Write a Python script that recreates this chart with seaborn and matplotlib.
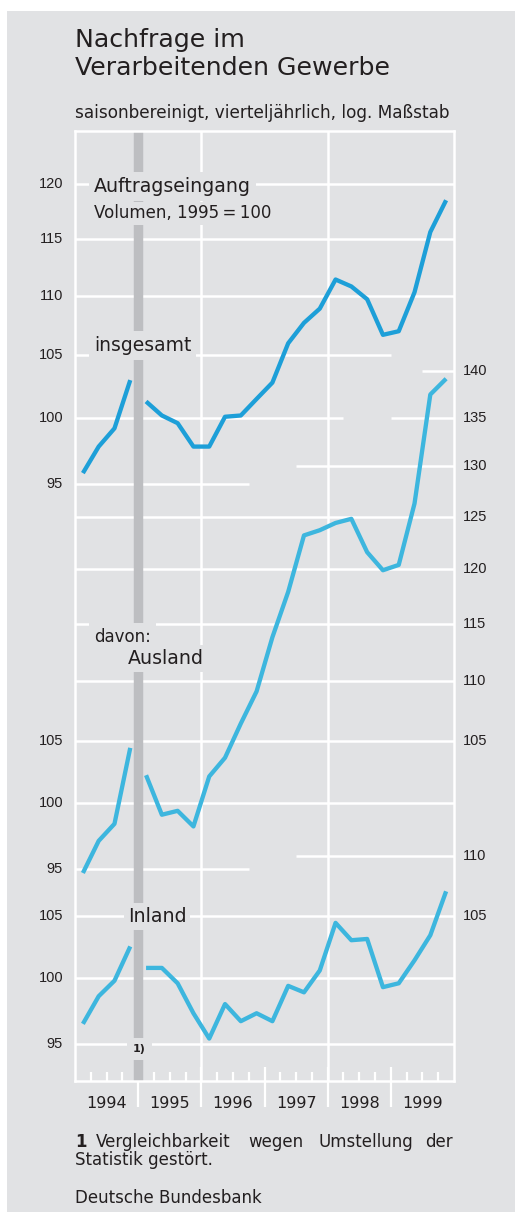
import matplotlib
matplotlib.use("Agg")
import matplotlib.pyplot as plt
import matplotlib.transforms as mtransforms
from matplotlib.patches import Rectangle
from matplotlib import font_manager
import seaborn as sns
import pandas as pd

# ---------------- data ----------------
years = [1994, 1995, 1996, 1997, 1998, 1999]
quarters = [1, 2, 3, 4]

insgesamt = [95.8, 97.8, 99.2, 103.0, 101.3, 100.2, 99.6, 97.8, 97.8, 100.1, 100.2, 101.5,
             102.8, 106.0, 107.7, 108.9, 111.4, 110.8, 109.7, 106.7, 107.0, 110.3, 115.6, 118.5]
ausland = [94.7, 97.1, 98.4, 104.4, 102.2, 99.1, 99.4, 98.2, 102.1, 103.6, 106.4, 109.1,
           113.8, 117.9, 123.2, 123.7, 124.4, 124.8, 121.6, 119.9, 120.4, 126.3, 137.5, 139.2]
inland = [96.5, 98.6, 99.8, 102.5, 100.8, 100.8, 99.6, 97.3, 95.4, 98.0, 96.7, 97.3,
          96.7, 99.4, 98.9, 100.6, 104.4, 103.0, 103.1, 99.3, 99.6, 101.4, 103.4, 107.0]

ins_ticks = [95, 100, 105, 110, 115, 120]
aus_ticks_left = [95, 100, 105]
aus_ticks_right = [105, 110, 115, 120, 125, 130, 135, 140]
inl_ticks_left = [95, 100, 105]
inl_ticks_right = [105, 110]
break_year = 1995  # comparability break (footnote 1)

# ---------------- style ----------------
W, H = 515, 1212
BG = "#e1e2e4"
BAR = "#bdbec1"
TXT = "#231f20"
C_INS = "#1d9fd8"
C_SUB = "#3db6de"
GRID_LW = 1.8
LINE_LW = 3.1

sns.set_style("white")
plt.rcParams["font.family"] = ["DejaVu Sans"]

names = {f.name for f in font_manager.fontManager.ttflist}
if "Liberation Sans Narrow" in names:
    NUM_FONT, NUM_SIZE = ["Liberation Sans Narrow", "DejaVu Sans"], 12
elif "Liberation Sans" in names:
    NUM_FONT, NUM_SIZE = ["Liberation Sans", "DejaVu Sans"], 10.5
else:
    NUM_FONT, NUM_SIZE = ["DejaVu Sans"], 9.5

fig = plt.figure(figsize=(W / 100, H / 100), dpi=100)
fig.patch.set_facecolor("white")
fig.add_artist(Rectangle((7 / W, 0), 1 - 7 / W, (H - 11) / H, transform=fig.transFigure,
                         facecolor=BG, edgecolor="none", zorder=0))

AX_L, AX_R, AX_T, AX_B = 75, 454, 131, 1081
rect = [AX_L / W, 1 - AX_B / H, (AX_R - AX_L) / W, (AX_B - AX_T) / H]

# panel limits: one common log scale, panels shifted against each other
INS_LIM = (59.65, 125.07)
AUS_SHIFT = 1.35      # Ausland 135 level sits at insgesamt 100 level
INL_SHIFT = 1.5473    # Inland panel shift
AUS_LIM = (INS_LIM[0] * AUS_SHIFT, INS_LIM[1] * AUS_SHIFT)
INL_LIM = (INS_LIM[0] * INL_SHIFT, INS_LIM[1] * INL_SHIFT)

base = fig.add_axes(rect, zorder=1)
ax_aus = fig.add_axes(rect, zorder=2)
ax_inl = fig.add_axes(rect, zorder=3)

t = [y + (q - 0.5) / 4 for y in years for q in quarters]
seg = [0 if ti < break_year else 1 for ti in t]

for ax, vals, col in [(base, insgesamt, C_INS), (ax_aus, ausland, C_SUB), (ax_inl, inland, C_SUB)]:
    df = pd.DataFrame({"t": t, "value": vals, "segment": seg})
    sns.lineplot(data=df, x="t", y="value", units="segment", estimator=None, color=col,
                 lw=LINE_LW, ax=ax, legend=False, zorder=4, solid_capstyle="butt")

for ax, lim in [(base, INS_LIM), (ax_aus, AUS_LIM), (ax_inl, INL_LIM)]:
    ax.set_yscale("log")
    ax.set_facecolor("none")
    ax.set_xlim(years[0], years[-1] + 1)
    ax.set_xticks([])
    ax.set_yticks([])
    ax.yaxis.set_minor_locator(matplotlib.ticker.NullLocator())
    ax.set_xlabel("")
    ax.set_ylabel("")
    for s in ax.spines.values():
        s.set_visible(False)

# frame
for side in ["left", "right", "top", "bottom"]:
    base.spines[side].set_visible(True)
    base.spines[side].set_color("white")
    base.spines[side].set_linewidth(GRID_LW)

x_end = years[-1] + 1

def hgrid(ax, y, x0=years[0], x1=x_end):
    base.plot([x0, x1], [y, y], transform=ax.transData, color="white", lw=GRID_LW,
              zorder=1, solid_capstyle="butt", clip_on=False)

for v in [110, 115, 120]:
    hgrid(base, v)
hgrid(base, 105, years[0], 1999.0)
hgrid(base, 100, years[0], 1998.25)
hgrid(base, 95, years[0], 1996.75)
hgrid(ax_aus, 140, 1999.5)
hgrid(ax_aus, 135, 1999.0)
hgrid(ax_aus, 130, 1997.5)
for v in [100, 105, 110, 115, 120, 125]:
    hgrid(ax_aus, v)
hgrid(ax_aus, 95, years[0], 1996.75)
hgrid(ax_inl, 110, 1997.5)
for v in [95, 100, 105]:
    hgrid(ax_inl, v)

for yv in [1996, 1998]:
    base.axvline(yv, color="white", lw=GRID_LW, zorder=1)

# bottom ticks
AXH = AX_B - AX_T
tr_x = mtransforms.blended_transform_factory(base.transData, base.transAxes)
for y in years:
    for q in [1, 2, 3]:
        xq = y + q / 4
        base.plot([xq, xq], [0, 9 / AXH], transform=tr_x, color="white", lw=1.6, zorder=1,
                  solid_capstyle="butt")
    if y > years[0]:
        base.plot([y, y], [-26 / AXH, 14 / AXH], transform=tr_x, color="white", lw=1.6,
                  zorder=1, clip_on=False, solid_capstyle="butt")

# break bar
base.axvline(break_year, color=BAR, lw=6.8, zorder=2, ymin=-0.001)

# tick labels
def ylabels(ax, vals, side):
    tr = mtransforms.blended_transform_factory(base.transAxes, ax.transData)
    for v in vals:
        if side == "left":
            base.text((63 - AX_L) / (AX_R - AX_L), v, str(v), transform=tr, ha="right",
                      va="center", fontsize=NUM_SIZE, family=NUM_FONT, color=TXT)
        else:
            base.text((463 - AX_L) / (AX_R - AX_L), v, str(v), transform=tr, ha="left",
                      va="center", fontsize=NUM_SIZE, family=NUM_FONT, color=TXT)

ylabels(base, ins_ticks, "left")
ylabels(ax_aus, aus_ticks_left, "left")
ylabels(ax_aus, aus_ticks_right, "right")
ylabels(ax_inl, inl_ticks_left, "left")
ylabels(ax_inl, inl_ticks_right, "right")

for y in years:
    base.text(y + 0.5, -27 / AXH, str(y), transform=tr_x, ha="center", va="baseline",
              fontsize=11.5, color=TXT)

# texts
def ftext(x, y, s, size, pad=0.15, box=True, **kw):
    bb = dict(boxstyle=f"square,pad={pad}", fc=BG, ec="none") if box else None
    fig.text(x / W, 1 - y / H, s, fontsize=size, color=TXT, va="baseline", ha=kw.pop("ha", "left"),
             bbox=bb, zorder=10, **kw)

ftext(75, 47, "Nachfrage im", 18.2, box=False)
ftext(75, 75, "Verarbeitenden Gewerbe", 18.2, box=False)
ftext(75, 118, "saisonbereinigt, vierteljährlich, log. Maßstab", 12.2, box=False)

ftext(94, 192, "Auftragseingang", 13.7, pad=0.25)
ftext(94, 218, "Volumen, 1995\u2009=\u2009100", 12.0, pad=0.15)
ftext(94, 351, "insgesamt", 13.5, pad=0.25)
ftext(94, 642, "davon:", 12.0, pad=0.3)
ftext(128, 664, "Ausland", 13.7, pad=0.2)
ftext(128, 922, "Inland", 13.7, pad=0.2)
ftext(133, 1052, "1)", 8, pad=0.55, fontweight="bold")

ftext(75, 1147, "1", 12, box=False, fontweight="bold")
ftext(96, 1147, "Vergleichbarkeit", 12, box=False)
ftext(248, 1147, "wegen", 12, box=False)
ftext(318, 1147, "Umstellung", 12, box=False)
ftext(453, 1147, "der", 12, box=False, ha="right")
ftext(75, 1165, "Statistik gestört.", 12, box=False)
ftext(75, 1203, "Deutsche Bundesbank", 12, box=False)

for ax, lim in [(base, INS_LIM), (ax_aus, AUS_LIM), (ax_inl, INL_LIM)]:
    ax.set_ylim(*lim)
    ax.set_xlim(years[0], x_end)

fig.savefig("out.png", dpi=100, facecolor=fig.get_facecolor())
